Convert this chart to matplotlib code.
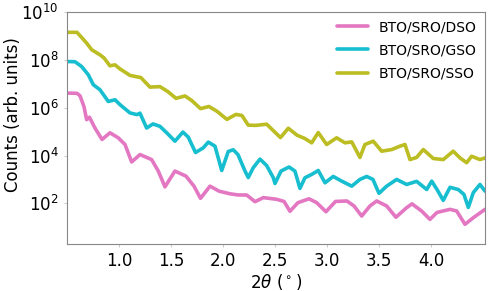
import numpy as np
import matplotlib
matplotlib.use('Agg')
import matplotlib.pyplot as plt

# XRR curves: 2theta (deg) and log10(counts)
dso_x = [0.50, 0.596, 0.625, 0.663, 0.689, 0.716, 0.769, 0.837, 0.913, 0.993,
         1.058, 1.122, 1.202, 1.314, 1.378, 1.442, 1.538, 1.644, 1.721, 1.784,
         1.875, 1.962, 2.067, 2.147, 2.228, 2.308, 2.388, 2.516, 2.587, 2.644,
         2.721, 2.827, 2.901, 2.99, 3.082, 3.192, 3.26, 3.334, 3.413, 3.478,
         3.574, 3.663, 3.766, 3.817, 3.91, 3.99, 4.058, 4.183, 4.247, 4.327,
         4.407, 4.52]
dso_log = [6.61, 6.60, 6.50, 6.05, 5.50, 5.60, 5.15, 4.67, 4.95, 4.74,
           4.46, 3.73, 4.04, 3.83, 3.35, 2.69, 3.35, 3.14, 2.72, 2.21,
           2.72, 2.51, 2.40, 2.35, 2.35, 2.07, 2.24, 2.17, 2.08, 1.67,
           2.03, 2.19, 2.03, 1.65, 2.08, 2.10, 1.89, 1.47, 1.89, 2.10,
           1.89, 1.42, 1.82, 1.98, 1.68, 1.33, 1.62, 1.75, 1.68, 1.125,
           1.40, 1.75]

gso_x = [0.50, 0.577, 0.641, 0.705, 0.753, 0.817, 0.897, 0.962, 1.01, 1.106,
         1.173, 1.202, 1.266, 1.327, 1.394, 1.459, 1.538, 1.615, 1.666, 1.736,
         1.81, 1.859, 1.923, 1.988, 2.051, 2.099, 2.144, 2.212, 2.243, 2.291,
         2.356, 2.42, 2.484, 2.50, 2.558, 2.635, 2.692, 2.74, 2.788, 2.853,
         2.916, 2.981, 3.06, 3.141, 3.238, 3.317, 3.382, 3.442, 3.50, 3.574,
         3.67, 3.766, 3.862, 3.959, 4.007, 4.058, 4.118, 4.183, 4.262, 4.317,
         4.359, 4.407, 4.471, 4.52]
gso_log = [7.93, 7.92, 7.72, 7.375, 6.96, 6.75, 6.26, 6.33, 6.125, 5.78,
           5.71, 5.77, 5.15, 5.32, 5.22, 4.95, 4.60, 4.98, 4.77, 4.125,
           4.32, 4.56, 4.39, 3.375, 4.17, 4.24, 4.04, 3.35, 3.08, 3.49,
           3.85, 3.58, 3.07, 2.83, 3.35, 3.52, 3.35, 2.625, 3.07, 3.21,
           3.375, 2.86, 3.125, 2.93, 2.72, 3.0, 3.125, 3.0, 2.42, 2.72,
           3.0, 2.79, 2.92, 2.58, 2.93, 2.58, 2.125, 2.67, 2.58, 2.375,
           1.83, 2.45, 2.79, 2.51]

sso_x = [0.50, 0.596, 0.644, 0.689, 0.738, 0.817, 0.856, 0.913, 0.962, 1.01,
         1.106, 1.173, 1.21, 1.298, 1.394, 1.471, 1.548, 1.635, 1.702, 1.784,
         1.865, 1.942, 2.038, 2.125, 2.183, 2.243, 2.317, 2.42, 2.484, 2.553,
         2.628, 2.712, 2.788, 2.853, 2.916, 2.997, 3.093, 3.173, 3.238, 3.317,
         3.365, 3.445, 3.526, 3.622, 3.702, 3.75, 3.798, 3.862, 3.926, 4.022,
         4.118, 4.214, 4.279, 4.343, 4.391, 4.471, 4.52]
sso_log = [9.15, 9.15, 8.92, 8.70, 8.42, 8.21, 8.08, 7.75, 7.79, 7.62,
           7.35, 7.29, 7.26, 6.86, 6.88, 6.67, 6.39, 6.49, 6.29, 5.96,
           6.05, 5.85, 5.51, 5.72, 5.67, 5.27, 5.26, 5.31, 5.04, 4.75,
           5.14, 4.85, 4.71, 4.53, 4.96, 4.46, 4.74, 4.53, 4.57, 3.92,
           4.46, 4.60, 4.18, 4.25, 4.39, 4.46, 3.83, 3.92, 4.25, 3.875,
           3.83, 4.18, 3.90, 3.70, 3.97, 3.83, 3.90]

labels = ['BTO/SRO/DSO', 'BTO/SRO/GSO', 'BTO/SRO/SSO']
colors = ['#e377c2', '#17becf', '#bcbd22']

fig = plt.figure(figsize=(4.98, 2.91), dpi=100)
ax = fig.add_axes([0.1345, 0.1615, 0.8395, 0.7973])

series = [(dso_x, dso_log), (gso_x, gso_log), (sso_x, sso_log)]
for (x, lg), lab, c in zip(series, labels, colors):
    ax.plot(x, 10 ** np.array(lg), color=c, lw=2.6, label=lab,
            solid_joinstyle='round', solid_capstyle='round')

ax.set_yscale('log')
ax.set_xlim(0.5, 4.52)
ax.set_ylim(2, 1e10)
ax.set_xticks([1.0, 1.5, 2.0, 2.5, 3.0, 3.5, 4.0])
ax.set_yticks([1e2, 1e4, 1e6, 1e8, 1e10])
ax.yaxis.set_minor_locator(matplotlib.ticker.NullLocator())
ax.tick_params(labelsize=12, length=2, color='#cccccc', pad=4)

for s in ax.spines.values():
    s.set_color('#888888')

ax.set_xlabel(r'$2\theta$ ($^\circ$)', fontsize=12, labelpad=1)
ax.set_ylabel('Counts (arb. units)', fontsize=12)
ax.yaxis.set_label_coords(-0.108, 0.56)

ax.legend(loc='upper right', frameon=False, fontsize=10, handlelength=2.2,
          labelspacing=0.65, borderaxespad=0.2)

fig.savefig('out.png', dpi=100)
